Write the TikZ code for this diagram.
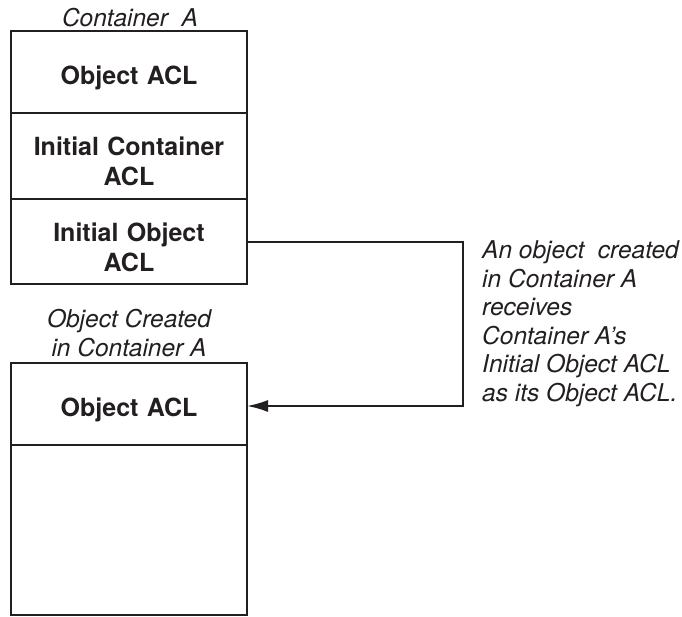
\documentclass[tikz,border=0pt]{standalone}
\usepackage{fontspec}
\setmainfont{TeX Gyre Heros}
\usepackage{tikz}
\usetikzlibrary{arrows.meta, positioning}
\definecolor{inkblack}{RGB}{35, 31, 32}

\begin{document}
\begin{tikzpicture}[
    x=1pt, y=-1pt,
    sect/.style={draw=inkblack, line width=2.2pt, minimum width=236pt, text width=220pt,
                 align=center, inner sep=0pt, outer sep=0pt, text=inkblack,
                 font=\fontsize{25}{30}\selectfont\bfseries,
                 execute at begin node={\rule{0pt}{30pt}}},
    caplabel/.style={align=center, inner sep=0pt, text=inkblack,
                font=\fontsize{24.5}{28.5}\selectfont\itshape},
    flow/.style={draw=inkblack, line width=2pt, -{Latex[length=21pt, width=12pt]}}
]
    \useasboundingbox (0,0) rectangle (682,616);
    % Container A
    \node[caplabel, anchor=base] (contcap) at (130,26) {Container\ \ A};
    \node[sect, minimum height=82pt] (objacl) at (129,72) {Object ACL};
    \node[sect, minimum height=86pt, below=0pt of objacl] (initcont) {Initial Container\\ACL};
    \node[sect, minimum height=85pt, below=0pt of initcont] (initobj) {Initial Object\\ACL};

    % Object created in Container A
    \node[caplabel] (objcap) at (129,333) {Object Created\\in Container A};
    \node[sect, minimum height=82pt] (newacl) at (129,404) {Object ACL};
    \node[sect, minimum height=170pt, below=0pt of newacl] (newrest) {};

    % Initial Object ACL goes to the new object
    \coordinate (turn) at (463,241.5);
    \draw[flow] (initobj.east) -- (turn) |- ([yshift=-2pt]newacl.east);
    \node[caplabel, align=left, anchor=west] (note) at (482,323.5) {An object\ \ created\\in Container A\\receives\\Container A's\\Initial Object ACL\\as its Object ACL.};
\end{tikzpicture}
\end{document}
